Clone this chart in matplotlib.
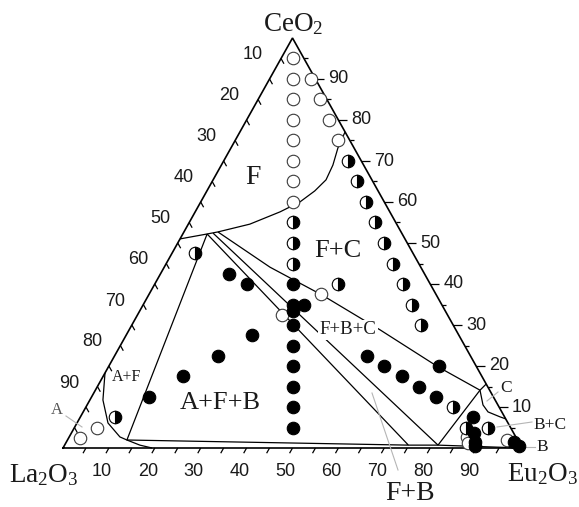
import matplotlib
matplotlib.use('Agg')
import matplotlib.pyplot as plt
import numpy as np

plt.rcParams['mathtext.fontset'] = 'custom'
plt.rcParams['mathtext.rm'] = 'Liberation Serif'
plt.rcParams['mathtext.it'] = 'Liberation Serif'

# ---------------- data (compositions in mol %: La2O3, CeO2, Eu2O3) ----------------
# vertical series La = Eu
col_ce = [95, 90, 85, 80, 75, 70, 65, 60, 55, 50, 45, 40, 35, 30, 25, 20, 15, 10, 5]
col_kind = ['open'] * 8 + ['half'] * 3 + ['full'] * 8

# series La:Eu = 1:9
s2_ce = [90, 85, 80, 75, 70, 65, 60, 55, 50, 45, 40, 35, 30]
s2_kind = ['open'] * 4 + ['half'] * 9

# series Ce = Eu
s3_la = [95, 90, 85, 75, 65, 55, 45]
s3_kind = ['open', 'open', 'half', 'full', 'full', 'full', 'full']

# series La = Ce
s4_eu = [5, 15, 20, 55, 60, 65, 70, 75, 80]
s4_kind = ['half', 'full', 'full', 'full', 'full', 'full', 'full', 'full', 'half']

# extra single points
ex_la = [20, 25, 8, 30, 33.3, 36, 5, 9.75, 10.65, 11.2, 7, 8.5, 9.5, 10, 2.3, 1, 0.4]
ex_ce = [40, 37.5, 20, 35, 33.3, 32.5, 5, 4.9, 2.7, 1.2, 7.5, 3.75, 1.5, 0.5, 2, 1.5, 0.5]
ex_eu = [40, 37.5, 72, 35, 33.4, 31.5, 90, 85.35, 86.65, 87.6, 85.5, 87.75, 89, 89.5, 95.7, 97.5, 99.1]
ex_kind = ['half', 'open', 'full', 'full', 'full', 'open', 'half',
           'half', 'open', 'open', 'full', 'full', 'full', 'full',
           'open', 'full', 'full']

# phase boundaries (Eu2O3 %, CeO2 %)
f_curve_eu = [0, 5.3, 7.4, 13.4, 18.5, 21.6, 23.5, 24.6, 24.3, 23.3, 22.9]
f_curve_ce = [51.0, 52.2, 52.7, 54.6, 57.6, 60.0, 62.7, 65.4, 69.0, 73.2, 77.1]

afb_eu = [5.3, 12.95, 74.9, 5.3]
afb_ce = [52.2, 1.95, 0.7, 52.2]

l2_eu = [6.5, 81.35]
l2_ce = [52.4, 0.7]

l3_eu = [7.4, 23.05, 37.8, 54.7, 71.8, 83.8]
l3_ce = [52.7, 44.1, 37.3, 28.8, 19.8, 14.1]

bc_eu = [81.35, 83.8]
bc_ce = [0.7, 14.1]

c_curve_eu = [84.4, 83.8, 86.25, 88.2, 91.4, 92.9]
c_curve_ce = [15.6, 14.1, 10.5, 8.8, 7.6, 7.1]

b_line_eu = [74.9, 81.35, 100]
b_line_ce = [0.7, 0.7, 0]

a_curve_eu = [0, 2.85, 6.75, 11.05, 12.95, 16.4, 19.4]
a_curve_ce = [18.3, 11.7, 6.1, 2.7, 1.95, 0.7, 0]

ticks_major = [10, 20, 30, 40, 50, 60, 70, 80, 90]
ticks_all = list(range(5, 100, 5))

# ---------------- figure ----------------
W, H = 579, 507
fig = plt.figure(figsize=(W / 100, H / 100), dpi=100)
L, R, B, T = 63, 522, 448, 38
ax = fig.add_axes([L / W, (H - B) / H, (R - L) / W, (B - T) / H])
ax.set_xlim(0, 1)
ax.set_ylim(0, 1)
ax.axis('off')

PX = 1 / (R - L)
PY = 1 / (B - T)


def P(xp, yp):
    """pixel position -> axes data (layout helper)"""
    return (xp - L) * PX, (B - yp) * PY


def tp(eu, ce):
    eu = np.asarray(eu, float) / 100
    ce = np.asarray(ce, float) / 100
    return eu + ce / 2, ce


K = dict(color='black', lw=0.9, clip_on=False, solid_capstyle='butt')

# triangle
ax.plot([0, 1, 0.5, 0], [0, 0, 1, 0], color='black', lw=1.2, clip_on=False, solid_joinstyle='miter')

# boundaries
for eu, ce in [(f_curve_eu, f_curve_ce), (afb_eu, afb_ce), (l2_eu, l2_ce), (l3_eu, l3_ce),
               (bc_eu, bc_ce), (c_curve_eu, c_curve_ce), (b_line_eu, b_line_ce),
               (a_curve_eu, a_curve_ce)]:
    x, y = tp(eu, ce)
    ax.plot(x, y, **K)

# ticks
tick_font = dict(family='Liberation Sans', size=13, color='#1a1a1a')
for v in ticks_all:
    # bottom (Eu2O3)
    x0, y0 = v / 100, 0
    ax.plot([x0, x0 - 0.489 * 6 * PX], [y0, y0 - 0.872 * 6 * PY], **K)
    # left (La2O3)
    ce = 1 - v / 100
    x0, y0 = ce / 2, ce
    ax.plot([x0, x0 + 0.488 * 6 * PX], [y0, y0 - 0.873 * 6 * PY], **K)
    # right (CeO2)
    x0, y0 = 1 - v / 200, v / 100
    ln = 9 if v in ticks_major else 4
    ax.plot([x0, x0 + ln * PX], [y0, y0], **K)

for v in ticks_major:
    ax.text(v / 100 - 7 * PX, -23 * PY, str(v), ha='center', va='center', **tick_font)
    ce = 1 - v / 100
    ax.text(ce / 2 - 17 * PX, ce + 24 * PY, str(v), ha='center', va='center', **tick_font)
    ax.text(1 - v / 200 + 13 * PX, v / 100, str(v), ha='left', va='center', **tick_font)

# data points
pts_eu, pts_ce, pts_kind = [], [], []
for c, k in zip(col_ce, col_kind):
    pts_eu.append((100 - c) / 2); pts_ce.append(c); pts_kind.append(k)
for c, k in zip(s2_ce, s2_kind):
    pts_eu.append((100 - c) * 0.9); pts_ce.append(c); pts_kind.append(k)
for la, k in zip(s3_la, s3_kind):
    pts_eu.append((100 - la) / 2); pts_ce.append((100 - la) / 2); pts_kind.append(k)
for e, k in zip(s4_eu, s4_kind):
    pts_eu.append(e); pts_ce.append((100 - e) / 2); pts_kind.append(k)
for la, c, e, k in zip(ex_la, ex_ce, ex_eu, ex_kind):
    s = la + c + e
    pts_eu.append(e * 100 / s); pts_ce.append(c * 100 / s); pts_kind.append(k)

styles = {
    'open': dict(marker='o', mfc='white', mec='#3a3a3a', mew=0.8),
    'half': dict(marker='o', fillstyle='right', mfc='black', markerfacecoloralt='white', mec='black', mew=0.8),
    'full': dict(marker='o', mfc='black', mec='black', mew=0.8),
}
for kind in ['open', 'half', 'full']:
    eu = [e for e, k in zip(pts_eu, pts_kind) if k == kind]
    ce = [c for c, k in zip(pts_ce, pts_kind) if k == kind]
    x, y = tp(eu, ce)
    ax.plot(x, y, ls='none', ms=9, clip_on=False, zorder=3, **styles[kind])

# vertex labels
vf = dict(family='Liberation Serif', size=19.5, color='#1a1a1a', ha='center', va='baseline')
ax.text(*P(293, 31), 'CeO$_2$', **vf)
ax.text(*P(44, 482), 'La$_2$O$_3$', **vf)
ax.text(*P(543, 481), 'Eu$_2$O$_3$', **vf)

# region labels
def rl(xp, yp, s, size, **kw):
    d = dict(family='Liberation Serif', size=size, color='#1a1a1a', ha='center', va='center', zorder=4)
    d.update(kw)
    ax.text(*P(xp, yp), s, **d)

rl(253, 178, 'F', 20)
rl(338, 251, 'F+C', 19)
rl(220, 403, 'A+F+B', 19)
rl(410, 493, 'F+B', 20)
rl(348, 330, 'F+B+C', 13.5, bbox=dict(facecolor='white', edgecolor='none', pad=1))
rl(127, 377, 'A+F', 11.5)
rl(506, 388, 'C', 12.5)
rl(550, 425, 'B+C', 12.5)
rl(542, 447, 'B', 12.5)
rl(57, 410, 'A', 12, color='#555555')

# leader lines
G = dict(color='#b5b5b5', lw=0.8, clip_on=False)
for (x0, y0), (x1, y1) in [((66, 416), (82, 427)), ((372, 393), (398, 470)),
                           ((487, 401), (498, 392)), ((497, 427), (532, 422)),
                           ((520, 447), (535, 447))]:
    a, b = P(x0, y0)
    c, d = P(x1, y1)
    ax.plot([a, c], [b, d], **G)

fig.savefig('out.png', dpi=100)
